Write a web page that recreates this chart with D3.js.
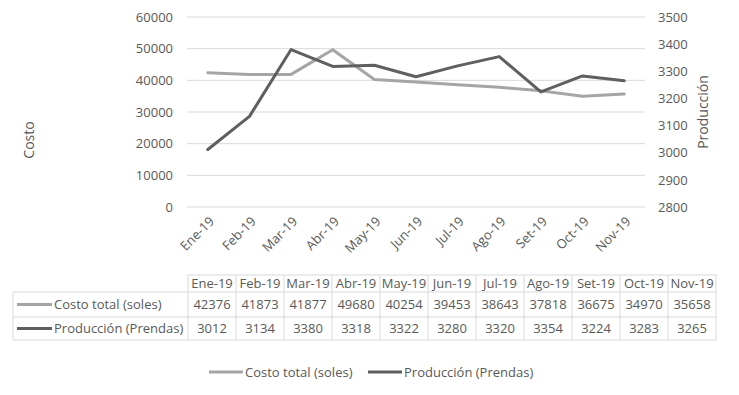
<!DOCTYPE html>
<html>
<head>
<meta charset="utf-8">
<script src="https://cdn.jsdelivr.net/npm/d3@7"></script>
<style>
  body { margin: 0; background: #fff; }
  text { font-family: "Open Sans", Lato, sans-serif; fill: #595959; }
</style>
</head>
<body>
<div id="chart"></div>
<script>
const months = ["Ene-19", "Feb-19", "Mar-19", "Abr-19", "May-19", "Jun-19", "Jul-19", "Ago-19", "Set-19", "Oct-19", "Nov-19"];
const costo = [42376, 41873, 41877, 49680, 40254, 39453, 38643, 37818, 36675, 34970, 35658];
const produccion = [3012, 3134, 3380, 3318, 3322, 3280, 3320, 3354, 3224, 3283, 3265];
const leftTicks = [0, 10000, 20000, 30000, 40000, 50000, 60000];
const rightTicks = [2800, 2900, 3000, 3100, 3200, 3300, 3400, 3500];

const series = [
    { name: "Costo total (soles)", values: costo, color: "#a5a5a5", axis: "left" },
    { name: "Producción (Prendas)", values: produccion, color: "#5f5f5f", axis: "right" }
];

// SVG setup
let svgWidth = 739;
let svgHeight = 395;
let plot = { left: 187, right: 645, top: 17, bottom: 207 };
let fontSize = "13px";
let labelSize = "13px";

let svg = d3.select("#chart")
    .append("svg")
    .attr("width", svgWidth)
    .attr("height", svgHeight);

// Scales
let xScale = d3.scalePoint()
    .domain(months)
    .range([plot.left, plot.right])
    .padding(0.5);
let yLeft = d3.scaleLinear().domain([0, 60000]).range([plot.bottom, plot.top]);
let yRight = d3.scaleLinear().domain([2800, 3500]).range([plot.bottom, plot.top]);

// Gridlines
svg.append("g")
    .selectAll("line")
    .data(leftTicks)
    .join("line")
    .attr("x1", plot.left)
    .attr("x2", plot.right)
    .attr("y1", d => yLeft(d))
    .attr("y2", d => yLeft(d))
    .attr("stroke", "#d9d9d9")
    .attr("stroke-width", 1);

// Left axis
let leftAxis = svg.append("g")
    .attr("transform", `translate(${plot.left - 14},0)`)
    .call(d3.axisLeft(yLeft).tickValues(leftTicks).tickSize(0).tickPadding(0).tickFormat(d3.format("d")));
leftAxis.select(".domain").remove();
leftAxis.selectAll("text").style("font-size", fontSize).attr("fill", "#595959");

// Right axis
let rightAxis = svg.append("g")
    .attr("transform", `translate(${plot.right + 13},0)`)
    .call(d3.axisRight(yRight).tickValues(rightTicks).tickSize(0).tickPadding(0).tickFormat(d3.format("d")));
rightAxis.select(".domain").remove();
rightAxis.selectAll("text").style("font-size", fontSize).attr("fill", "#595959");

// Category labels, rotated
svg.append("g")
    .selectAll("text")
    .data(months)
    .join("text")
    .attr("transform", d => `translate(${xScale(d) + 4},${plot.bottom + 12}) rotate(-45)`)
    .attr("text-anchor", "end")
    .attr("dy", "0.35em")
    .style("font-size", labelSize)
    .text(d => d);

// Axis titles
svg.append("text")
    .attr("transform", `translate(34,140) rotate(-90)`)
    .attr("text-anchor", "middle")
    .style("font-size", "14px")
    .text("Costo");
svg.append("text")
    .attr("transform", `translate(708,112) rotate(-90)`)
    .attr("text-anchor", "middle")
    .style("font-size", "14px")
    .text("Producción");

// Lines
let line = d3.line().x((d, i) => xScale(months[i]));
series.forEach(s => {
    let y = s.axis === "left" ? yLeft : yRight;
    svg.append("path")
        .datum(s.values)
        .attr("fill", "none")
        .attr("stroke", s.color)
        .attr("stroke-width", 3)
        .attr("stroke-linejoin", "round")
        .attr("stroke-linecap", "round")
        .attr("d", line.y(d => y(d)));
});

// Data table
let table = { left: 13, labelRight: 188, right: 716, rows: [275, 292, 317, 340] };
let colScale = d3.scaleBand().domain(months).range([table.labelRight, table.right]);
let grid = svg.append("g").attr("stroke", "#d9d9d9").attr("stroke-width", 1);
// horizontal lines
grid.append("line").attr("x1", table.labelRight).attr("x2", table.right).attr("y1", table.rows[0]).attr("y2", table.rows[0]);
table.rows.slice(1).forEach(y => {
    grid.append("line").attr("x1", table.left).attr("x2", table.right).attr("y1", y).attr("y2", y);
});
// vertical lines
grid.append("line").attr("x1", table.left).attr("x2", table.left).attr("y1", table.rows[1]).attr("y2", table.rows[3]);
months.forEach(m => {
    grid.append("line").attr("x1", colScale(m)).attr("x2", colScale(m)).attr("y1", table.rows[0]).attr("y2", table.rows[3]);
});
grid.append("line").attr("x1", table.right).attr("x2", table.right).attr("y1", table.rows[0]).attr("y2", table.rows[3]);

// header text
svg.append("g")
    .selectAll("text")
    .data(months)
    .join("text")
    .attr("x", d => colScale(d) + colScale.bandwidth() / 2)
    .attr("y", (table.rows[0] + table.rows[1]) / 2)
    .attr("dy", "0.35em")
    .attr("text-anchor", "middle")
    .style("font-size", fontSize)
    .attr("fill", "#404040")
    .text(d => d);

series.forEach((s, r) => {
    let yMid = (table.rows[r + 1] + table.rows[r + 2]) / 2;
    svg.append("line")
        .attr("x1", 17).attr("x2", 52)
        .attr("y1", yMid).attr("y2", yMid)
        .attr("stroke", s.color).attr("stroke-width", 3);
    svg.append("text")
        .attr("x", 54).attr("y", yMid).attr("dy", "0.35em")
        .style("font-size", labelSize)
        .text(s.name);
    svg.append("g")
        .selectAll("text")
        .data(s.values)
        .join("text")
        .attr("x", (d, i) => colScale(months[i]) + colScale.bandwidth() / 2)
        .attr("y", yMid)
        .attr("dy", "0.35em")
        .attr("text-anchor", "middle")
        .style("font-size", fontSize)
        .text(d => d);
});

// Legend
let legendX = [209, 368];
series.forEach((s, i) => {
    let g = svg.append("g").attr("transform", `translate(${legendX[i]},372)`);
    g.append("line").attr("x1", 0).attr("x2", 34).attr("stroke", s.color).attr("stroke-width", 3);
    g.append("text").attr("x", 36).attr("dy", "0.35em").style("font-size", labelSize).text(s.name);
});
</script>
</body>
</html>
